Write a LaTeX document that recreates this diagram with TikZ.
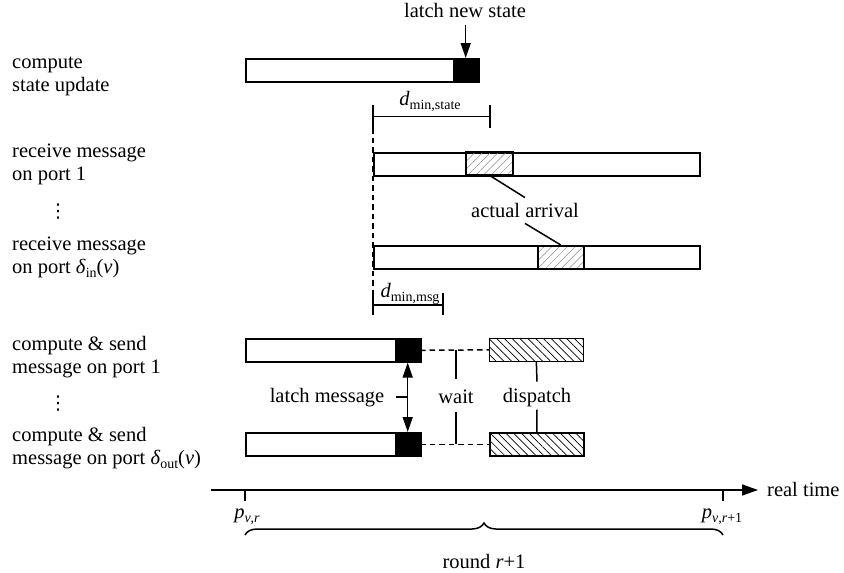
\documentclass[tikz,border=0pt]{standalone}
\usepackage{fontspec}
\setmainfont{Liberation Serif}
\newfontfamily\symfont{DejaVu Sans}
\usetikzlibrary{arrows.meta,patterns.meta,decorations.pathreplacing,calc}

% lowered, smaller subscript for text-mode formulas
\newcommand\lowsub[1]{\raisebox{-0.2em}{\fontsize{14}{14}\selectfont #1}}
% vertical ellipsis as a single glyph
\newcommand\tallvdots{{\symfont\fontsize{19}{19}\selectfont ⋮}}

\begin{document}
\begin{tikzpicture}[x=1pt,y=-1pt,
  every node/.style={font=\fontsize{20.5}{23}\selectfont, inner sep=0pt},
  lbl/.style={anchor=base west},
  bar/.style={draw, line width=1.6pt, minimum height=23pt, anchor=north west},
  latchbox/.style={draw, fill=black, line width=1.6pt, minimum width=23pt, minimum height=23pt, anchor=north east},
  rxhatch/.style={pattern={Lines[angle=45,distance=5.5pt,line width=0.5pt]}, pattern color=black!45},
  txhatch/.style={pattern={Lines[angle=-45,distance=5.5pt,line width=0.7pt]}, pattern color=black},
  conn/.style={line width=1.5pt},
  dashline/.style={line width=1.5pt, dash pattern=on 5.5pt off 4pt},
  head/.style={-{Triangle[length=15pt,width=10pt]}},
  twohead/.style={{Triangle[length=15pt,width=10pt]}-{Triangle[length=15pt,width=10pt]}}
]
\useasboundingbox (0,0) rectangle (844,573);

% ---------- state update ----------
\node[lbl] (c1a) at (12,68) {compute};
\node[lbl] (c1b) at (12,91) {state update};
\node[bar, minimum width=233pt] (b0) at (245,58) {};
\node[latchbox] (k0) at (478,58) {};
\node[anchor=base] (ls) at (465,17) {latch new state};
\draw[conn,head] (k0.north |- ls.south) ++(0,8) -- (k0.north);

% ---------- minimum delay to state latch ----------
\coordinate (ds0) at (373,105);
\coordinate (ds1) at (373,128);
\coordinate (ds2) at (490,105);
\coordinate (ds3) at (490,128);
\draw[conn] (ds0) -- (ds1);
\draw[conn] (ds2) -- (ds3);
\draw[conn] ($(ds0)!0.5!(ds1)$) -- ($(ds2)!0.5!(ds3)$);
\node[anchor=base] (dst) at (430,105) {\textit{d}\lowsub{min,state}};

% reference line for the start of the round
\coordinate (dm0) at (373,293);
\draw[dashline] (ds1) -- (dm0);

% ---------- receive ----------
\node[lbl] (r1a) at (12,157) {receive message};
\node[lbl] (r1b) at (12,180) {on port 1};
\node (rdots) at (58,212) {\tallvdots};
\node[lbl] (r2a) at (12,250) {receive message};
\node[lbl] (r2b) at (12,273) {on port \textit{δ}\lowsub{in}(\textit{v})};

\node[bar, minimum width=326pt] (b1) at (373,152) {};
\node[bar, rxhatch, minimum width=47pt] (h1) at (466,152) {};
\node[bar, minimum width=326pt] (b2) at (373,245) {};
\node[bar, rxhatch, minimum width=46pt] (h2) at (537,245) {};

\node[anchor=base] (aa) at (525,217) {actual arrival};
\draw[conn] (h1.south) -- ([yshift=5pt]aa.north);
\draw[conn] ([yshift=-6pt]aa.south) -- (h2.north);

% ---------- minimum delay to message latch ----------
\coordinate (dm1) at (373,315);
\coordinate (dm2) at (443,293);
\coordinate (dm3) at (443,315);
\draw[conn] (dm0) -- (dm1);
\draw[conn] (dm2) -- (dm3);
\draw[conn] ($(dm0)!0.55!(dm1)$) -- ($(dm2)!0.55!(dm3)$);
\node[anchor=base] (dms) at (410,297) {\textit{d}\lowsub{min,msg}};

% ---------- compute & send ----------
\node[lbl] (s1a) at (12,350) {compute \& send};
\node[lbl] (s1b) at (12,373) {message on port 1};
\node (sdots) at (58,404) {\tallvdots};
\node[lbl] (s2a) at (12,441) {compute \& send};
\node[lbl] (s2b) at (12,464) {message on port \textit{δ}\lowsub{out}(\textit{v})};

\node[bar, minimum width=175pt] (b3) at (245,338) {};
\node[latchbox] (k3) at (420,338) {};
\node[bar, txhatch, minimum width=94pt] (x3) at (489,338) {};
\node[bar, minimum width=175pt] (b4) at (245,432) {};
\node[latchbox] (k4) at (420,432) {};
\node[bar, txhatch, minimum width=94pt] (x4) at (489,432) {};

\draw[dashline] (k3.east) -- (x3.west);
\draw[dashline] (k4.east) -- (x4.west);

\node[anchor=base] (lm) at (327,402) {latch message};
\draw[conn,twohead] (k3.south) -- (k4.north);
\draw[conn] ([xshift=12pt]lm.east) -- (lm.east -| k3.south);

\node[anchor=base] (wt) at (456,403) {wait};
\draw[conn] (wt.north |- k3.east) -- ([yshift=10pt]wt.north);
\draw[conn] ([yshift=-9pt]wt.south) -- (wt.south |- k4.east);

\node[anchor=base] (dp) at (537,402) {dispatch};
\draw[conn] (x3.south) -- ([yshift=6pt]dp.north);
\draw[conn] ([yshift=-3pt]dp.south) -- (x4.north);

% ---------- real-time axis ----------
\coordinate (ax0) at (211,490);
\coordinate (ax1) at (758,490);
\draw[conn,-{Triangle[length=16pt,width=11pt]}] (ax0) -- (ax1);
\node[anchor=base west] (rt) at (767,496) {real time};
\coordinate (tk0) at (245,490);
\coordinate (tk1) at (723,490);
\draw[conn] (tk0) -- ++(0,11);
\draw[conn] (tk1) -- ++(0,11);
\node[anchor=base] (p0) at (247,518) {\textit{p}\lowsub{\textit{v},\textit{r}}};
\node[anchor=base] (p1) at (722,518) {\textit{p}\lowsub{\textit{v},\textit{r}+1}};

\coordinate (br0) at (245,535);
\coordinate (br1) at (723,535);
\draw[line width=1.5pt, decorate, decoration={brace, amplitude=12pt}] (br0) -- (br1);
\node[anchor=base] (rnd) at (484,568) {round \textit{r}+1};
\end{tikzpicture}
\end{document}
